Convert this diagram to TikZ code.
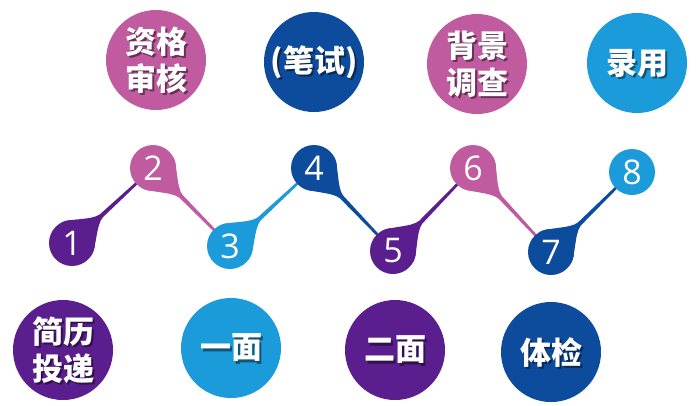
\documentclass[tikz,border=0pt]{standalone}
\usepackage{fontspec}
\newfontfamily\cjk{Noto Sans CJK SC}
\newfontfamily\numfont{Open Sans}
\usetikzlibrary{calc}
\definecolor{cpur}{HTML}{5A1E8E}
\definecolor{cpink}{HTML}{C05BA0}
\definecolor{clb}{HTML}{1C9BDB}
\definecolor{cdb}{HTML}{0D4B9C}
\newcommand\droptail[3]{%
  \fill[#3] let \p1=($(#2)-(#1)$), \n1={atan2(\y1,\x1)} in
    ($(#1)+({\n1+75}:23pt)$) .. controls ($(#1)+({\n1+55}:25pt)$) and ($(#1)+({\n1+6}:30pt)$) ..
    ($(#1)+({\n1+3}:40pt)$) -- ($(#2)+({\n1+90}:1pt)$) -- ($(#2)+({\n1-90}:1pt)$) --
    ($(#1)+({\n1-3}:40pt)$) .. controls ($(#1)+({\n1-6}:30pt)$) and ($(#1)+({\n1-55}:25pt)$) ..
    ($(#1)+({\n1-75}:23pt)$) -- cycle;}
\newcommand\bigstage[4]{% name, position, colour, text
  \node[bigc=#3] (#1) at #2 {};
  \node[shd] (#1s) at ($(#1)+(2.2,2.2)$) {#4};
  \node[lbl] (#1t) at (#1) {#4};}
\begin{document}
\begin{tikzpicture}[x=1pt,y=-1pt,
  bigc/.style={circle, minimum size=100pt, inner sep=0pt, fill=#1},
  numc/.style={circle, minimum size=46pt, inner sep=0pt, fill=#1, text=white,
    font=\numfont\fontsize{34}{34}\selectfont},
  lbl/.style={text=white, align=center, inner sep=0pt,
    font=\cjk\bfseries\fontsize{31}{37}\selectfont},
  shd/.style={text=black, opacity=.45, align=center, inner sep=0pt,
    font=\cjk\bfseries\fontsize{31}{37}\selectfont},
]
\useasboundingbox (0,0) rectangle (700,405);
% top row
\bigstage{A}{(156,60)}{cpink}{资格\\审核}
\bigstage{B}{(314,62)}{cdb}{(笔试)}
\bigstage{C}{(477,64)}{cpink}{背景\\调查}
\bigstage{D}{(637,63)}{clb}{录用}
% bottom row
\bigstage{E}{(63,350)}{cpur}{简历\\投递}
\bigstage{F}{(231,348)}{clb}{一面}
\bigstage{G}{(395,350)}{cpur}{二面}
\bigstage{H}{(551,352)}{cdb}{体检}
% numbered points
\coordinate (p1) at (72,243);
\coordinate (p2) at (153,168);
\coordinate (p3) at (230,246);
\coordinate (p4) at (314,168);
\coordinate (p5) at (393,251);
\coordinate (p6) at (473,168);
\coordinate (p7) at (551,252);
\coordinate (p8) at (632,172);
\droptail{p1}{p2}{cpur}
\droptail{p2}{p3}{cpink}
\droptail{p3}{p4}{clb}
\droptail{p4}{p5}{cdb}
\droptail{p5}{p6}{cpur}
\droptail{p6}{p7}{cpink}
\droptail{p7}{p8}{cdb}
\node[numc=cpur]  (n1) at (p1) {1};
\node[numc=cpink] (n2) at (p2) {2};
\node[numc=clb]   (n3) at (p3) {3};
\node[numc=cdb]   (n4) at (p4) {4};
\node[numc=cpur]  (n5) at (p5) {5};
\node[numc=cpink] (n6) at (p6) {6};
\node[numc=cdb]   (n7) at (p7) {7};
\node[numc=clb]   (n8) at (p8) {8};
\end{tikzpicture}
\end{document}
